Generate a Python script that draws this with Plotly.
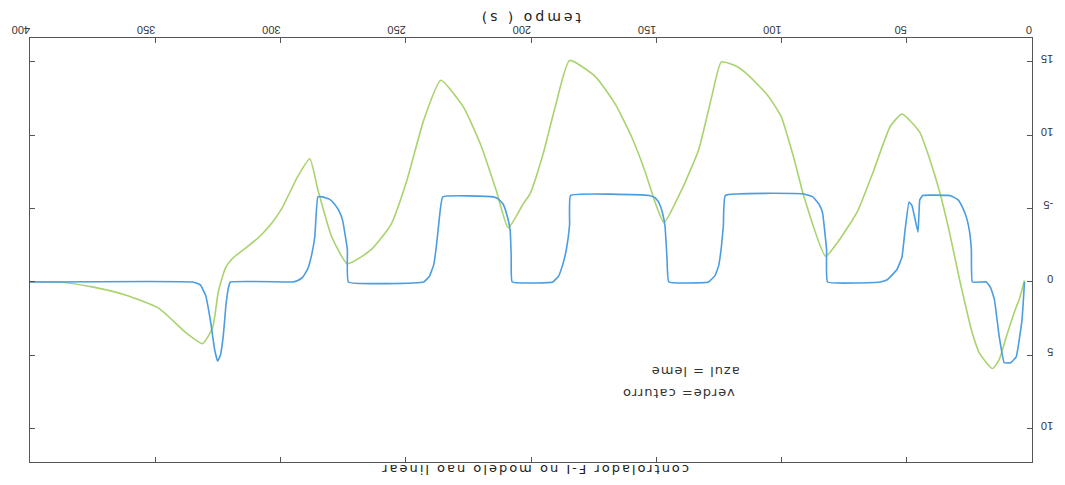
import plotly.graph_objects as go

# time (s) and values for the blue curve (azul)
t_blue = [3, 4.0, 6.3, 8.5, 11.1, 13.1, 15.0, 16.5, 18.2,
          23.8, 24.2, 25.0, 26.0, 27.5, 29.5, 32.0, 33.7,
          43.6, 44.8, 45.5, 47.9, 49.1, 50.7, 51.9, 53.9, 57.8, 60.6,
          81.6, 82.0, 82.4, 83.6, 85.0, 87.5, 91.1,
          122.4, 123.2, 124.0, 125.1, 126.5, 129.1,
          145.0, 145.7, 146.5, 147.5, 148.9, 150.5, 152.9,
          184.2, 184.6, 185.8, 187.3, 189.0, 191.3,
          207.5, 207.9, 208.3, 209.5, 211.1, 213.0, 215.0,
          235.2, 236.8, 237.8, 238.8, 240.5, 242.8,
          272.9, 273.3, 275.2, 276.5, 278.4, 280.5, 283.2,
          285.1, 286.3, 287.5, 289.1, 291.0, 293.1, 295.0,
          320.0, 320.8, 321.8, 322.8, 324.0, 325.1, 326.3, 327.9, 329.9, 332.0, 335.0, 400]
v_blue = [0, -2.6, -5.1, -5.5, -5.5, -3.7, -1.2, -0.4, 0,
          0, 2.2, 3.5, 4.3, 5.0, 5.6, 5.85, 5.9,
          5.9, 5.6, 3.4, 5.2, 5.45, 3.5, 1.7, 0.85, 0.15, 0,
          0, 2.2, 2.9, 4.7, 5.3, 5.8, 6.0,
          5.9, 3.85, 2.4, 1.1, 0.45, 0,
          0, 1.6, 3.8, 4.7, 5.4, 5.75, 5.9,
          5.9, 3.9, 2.3, 1.2, 0.4, 0,
          0, 1.7, 3.5, 4.5, 5.3, 5.65, 5.8,
          5.8, 4.0, 2.4, 1.2, 0.4, 0,
          0, 2.2, 4.2, 4.8, 5.3, 5.65, 5.8,
          5.8, 3.1, 1.9, 0.9, 0.35, 0.1, 0,
          0, -0.4, -1.6, -3.6, -5.0, -5.4, -4.6, -2.7, -0.9, -0.2, 0, 0]

# time (s) and values for the green curve (verde)
t_green = [3, 5.1, 6.3, 10.3, 13.1, 15.8, 21.0, 23.8, 28.9, 32.9,
           36.8, 40.8, 44.8, 51.9, 56.6, 63.4, 69.7, 77.6, 82.4, 91.1,
           95.0, 100.2, 105.4, 113.3, 118.0, 124.0, 127.9, 133.1, 139.8, 146.9,
           150.5, 154.5, 159.6, 166.3, 174.3, 184.6, 190.1, 195.2, 200.4, 203.2,
           209.1, 213.9, 220.2, 226.9, 236.0, 242.8, 249.5, 255.8, 263.8, 273.3,
           279.6, 285.1, 288.3, 293.1, 299.5, 304.0, 309.0, 314.0, 319.2, 322.0, 324.8, 327.1,
           331.1, 337.8, 348.5, 361.6, 374.7, 388.1, 400]
v_green = [0.1, -1.2, -1.7, -3.75, -5.3, -5.9, -4.85, -3.5, 0.15, 3.35,
           6.1, 8.35, 10.2, 11.45, 10.6, 7.5, 4.8, 2.7, 1.75, 5.85,
           8.4, 11.3, 12.7, 14.1, 14.7, 15.0, 12.6, 9.0, 6.3, 4.05,
           5.45, 7.55, 9.8, 12.1, 14.0, 15.1, 12.1, 8.7, 6.0, 5.3,
           3.7, 6.25, 9.4, 11.9, 13.75, 11.05, 6.95, 3.95, 2.2, 1.25,
           3.1, 6.3, 8.4, 7.2, 5.0, 3.9, 3.0, 2.3, 1.6, 0.95, -0.65, -3.1,
           -4.2, -3.45, -1.8, -0.9, -0.35, 0, 0]

x_ticks = [0, 50, 100, 150, 200, 250, 300, 350, 400]
x_ticktext = ["0", "50", "100", "150", "200", "250", "300", "350", "400"]
y_ticks = [15, 10, 5, 0, -5, -10]
y_ticktext = ["15", "10", "-5", "0", "5", "10"]

title_text = "controlador F-I no modelo nao linear"
xlabel_text = "tempo ( s)"
note_line1 = "verde= caturro"
note_line2 = "azul = leme"


def spaced(s, px):
    return '<span style="letter-spacing:%dpx">%s</span>' % (px, s)


fig = go.Figure()
fig.add_trace(go.Scatter(x=t_green, y=v_green, mode="lines",
                         line=dict(color="#a8d36e", width=1.6, shape="spline", smoothing=0.5),
                         showlegend=False))
fig.add_trace(go.Scatter(x=t_blue, y=v_blue, mode="lines",
                         line=dict(color="#4b9de2", width=1.6, shape="spline", smoothing=0.3),
                         showlegend=False))

font_tick = dict(family="Liberation Sans, Arial, sans-serif", size=11, color="#333")
font_text = "DejaVu Sans, sans-serif"

fig.update_layout(
    width=1065, height=485,
    margin=dict(l=23, r=32, t=38, b=23),
    paper_bgcolor="white", plot_bgcolor="white",
    xaxis=dict(range=[400, 0], side="top", tickvals=x_ticks, ticktext=x_ticktext,
               tickangle=180, ticks="inside", ticklen=5, tickcolor="#555",
               ticklabelstandoff=-4,
               showline=True, linecolor="#555", linewidth=1, mirror="ticks",
               showgrid=False, zeroline=False, tickfont=font_tick),
    yaxis=dict(range=[-12.27, 16.63], side="right", tickvals=y_ticks, ticktext=y_ticktext,
               tickangle=180, ticks="inside", ticklen=5, tickcolor="#555",
               ticklabelstandoff=18,
               showline=True, linecolor="#555", linewidth=1, mirror="ticks",
               showgrid=False, zeroline=False, tickfont=font_tick),
    annotations=[
        dict(text=spaced(title_text, 2), xref="paper", yref="paper", x=0.504, y=-0.019,
             xanchor="center", yanchor="middle", showarrow=False, textangle=180,
             font=dict(family=font_text, size=13, color="#222")),
        dict(text=spaced(xlabel_text, 3), xref="paper", yref="paper", x=0.499, y=1.047,
             xanchor="center", yanchor="middle", showarrow=False, textangle=180,
             font=dict(family=font_text, size=14, color="#222")),
        dict(text=spaced(note_line2, 1), xref="paper", yref="paper", x=0.710, y=0.212,
             xanchor="right", yanchor="middle", showarrow=False, textangle=180,
             font=dict(family=font_text, size=13, color="#333")),
        dict(text=spaced(note_line1, 1), xref="paper", yref="paper", x=0.705, y=0.163,
             xanchor="right", yanchor="middle", showarrow=False, textangle=180,
             font=dict(family=font_text, size=13, color="#333")),
    ],
)

fig.write_html("out.html")
